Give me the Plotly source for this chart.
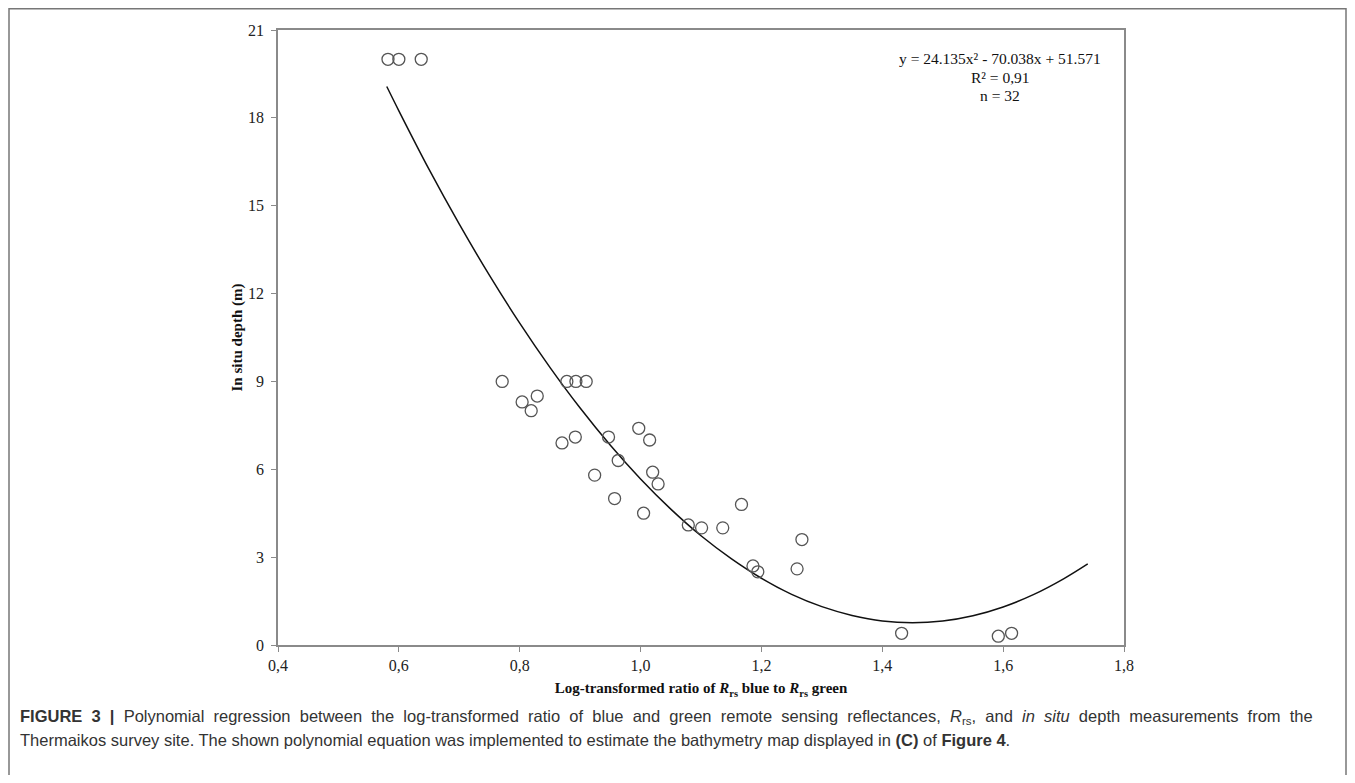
import plotly.graph_objects as go

# ---- data ----
ratio = [0.582, 0.600, 0.637,
         0.771, 0.878, 0.893, 0.910,
         0.804, 0.829, 0.819,
         0.870, 0.892, 0.947,
         0.997, 1.015, 0.963,
         0.924, 1.020, 1.029,
         0.957, 1.005,
         1.079, 1.101, 1.136,
         1.167, 1.267,
         1.186, 1.194, 1.259,
         1.432, 1.592, 1.614]
depth = [20.0, 20.0, 20.0,
         9.0, 9.0, 9.0, 9.0,
         8.3, 8.5, 8.0,
         6.9, 7.1, 7.1,
         7.4, 7.0, 6.3,
         5.8, 5.9, 5.5,
         5.0, 4.5,
         4.1, 4.0, 4.0,
         4.8, 3.6,
         2.7, 2.5, 2.6,
         0.4, 0.3, 0.4]

fit_x = [0.58, 0.60, 0.65, 0.70, 0.75, 0.80, 0.85, 0.90, 0.95, 1.00, 1.05, 1.10,
         1.15, 1.20, 1.25, 1.30, 1.35, 1.40, 1.45, 1.50, 1.55, 1.60, 1.65, 1.70, 1.74]
fit_y = [19.07, 18.24, 16.24, 14.37, 12.62, 10.99, 9.48, 8.09, 6.82, 5.67, 4.64, 3.73,
         2.95, 2.28, 1.73, 1.31, 1.01, 0.82, 0.76, 0.82, 1.00, 1.30, 1.72, 2.26, 2.77]

x_ticks = [0.4, 0.6, 0.8, 1.0, 1.2, 1.4, 1.6, 1.8]
x_tick_text = ["0,4", "0,6", "0,8", "1,0", "1,2", "1,4", "1,6", "1,8"]
y_ticks = [0, 3, 6, 9, 12, 15, 18, 21]

equation_lines = ["y = 24.135x² - 70.038x + 51.571", "R² = 0,91", "n = 32"]

caption_1_words = ["<b>FIGURE", "3", "|</b>", "Polynomial", "regression", "between", "the",
                   "log-transformed", "ratio", "of", "blue", "and", "green", "remote", "sensing",
                   "reflectances,", "<i>R</i><sub>rs</sub>,", "and", "<i>in", "situ</i>", "depth",
                   "measurements", "from", "the"]
caption_2 = ("Thermaikos survey site. The shown polynomial equation was implemented to estimate "
             "the bathymetry map displayed in <b>(C)</b> of <b>Figure 4</b>.")
# first caption line is justified in the reference: widen the word gaps
caption_1 = " \u00a0".join(caption_1_words)

# ---- layout geometry ----
# the page body has an 8px margin, so screen positions are shifted by OFF
OFF = 8
W, H = 1355 - 2 * OFF, 783 - 2 * OFF
# plot area in screen pixels
SL, SR, ST, SB = 278, 1124, 30, 645
L, R, T, B = SL - OFF, SR - OFF, ST - OFF, SB - OFF
pw, ph = R - L, B - T


def px(xs):
    return (xs - OFF - L) / pw


def py(ys):
    return (B - (ys - OFF)) / ph


serif = "Liberation Serif, Times New Roman, serif"
sans = "Liberation Sans, Arial, Helvetica, sans-serif"

fig = go.Figure()
fig.add_trace(go.Scatter(
    x=fit_x, y=fit_y, mode="lines", line=dict(color="#111111", width=1.5, shape="spline"),
    hoverinfo="skip", showlegend=False))
fig.add_trace(go.Scatter(
    x=ratio, y=depth, mode="markers",
    marker=dict(symbol="circle-open", size=12, color="#555555", line=dict(width=1.3, color="#555555")),
    showlegend=False))

axis_common = dict(showgrid=False, zeroline=False, showline=True, linecolor="#8a8a8a",
                   linewidth=1.5, mirror=True, ticks="outside", ticklen=5, tickcolor="#8a8a8a",
                   tickwidth=1, tickfont=dict(family=serif, size=16, color="#222222"))

fig.update_layout(
    width=W, height=H,
    margin=dict(l=L, r=W - R, t=T, b=H - B, autoexpand=False),
    paper_bgcolor="white", plot_bgcolor="white",
    xaxis=dict(range=[0.4, 1.8], tickvals=x_ticks, ticktext=x_tick_text,
               title=dict(text="Log-transformed ratio of <i>R</i><sub>rs</sub> blue to <i>R</i><sub>rs</sub> green",
                          font=dict(family=serif, size=15, color="#111111", weight="bold"), standoff=10),
               ticklabelstandoff=0, **axis_common),
    yaxis=dict(range=[0, 21], tickvals=y_ticks,
               title=dict(text="In situ depth (m)",
                          font=dict(family=serif, size=15, color="#111111", weight="bold"), standoff=2),
               ticklabelstandoff=4, **axis_common),
)

for line, ys in zip(equation_lines, [59, 77, 95]):
    fig.add_annotation(x=px(1000), y=py(ys), xref="paper", yref="paper", text=line,
                       showarrow=False, xanchor="center", yanchor="middle",
                       font=dict(family=serif, size=15.5, color="#111111"))

fig.add_annotation(x=px(18), y=py(717), xref="paper", yref="paper", text=caption_1,
                   showarrow=False, xanchor="left", yanchor="middle", align="left",
                   font=dict(family=sans, size=16.5, color="#333333"))
fig.add_annotation(x=px(18), y=py(740), xref="paper", yref="paper", text=caption_2,
                   showarrow=False, xanchor="left", yanchor="middle", align="left",
                   font=dict(family=sans, size=16.5, color="#333333"))

# outer frame of the figure panel
fig.add_shape(type="rect", xref="paper", yref="paper",
              x0=px(9), x1=px(1346), y0=py(800), y1=py(8.8),
              line=dict(color="#777777", width=1.5), fillcolor="rgba(0,0,0,0)", layer="below")

fig.write_html("out.html")
